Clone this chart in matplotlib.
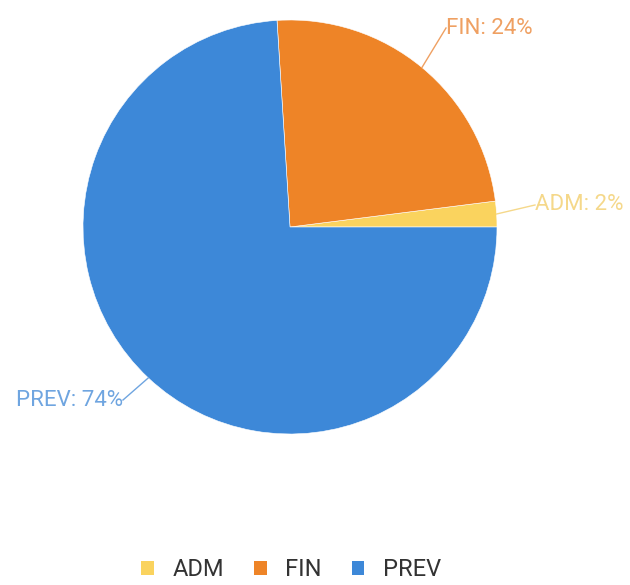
import numpy as np
import matplotlib.pyplot as plt
from matplotlib.patches import Patch

plt.rcParams['font.family'] = ['Roboto', 'DejaVu Sans']

labels = ['ADM', 'FIN', 'PREV']
values = [2, 24, 74]
colors = ['#FAD35E', '#EE8427', '#3D88D8']
label_colors = ['#F5D88A', '#EFA062', '#6FA5E0']

W, H = 630, 585
fig = plt.figure(figsize=(W / 100, H / 100), dpi=100)
ax = fig.add_axes([0, 0, 1, 1])

cx, cy, r = 290, H - 227, 207
wedges, _ = ax.pie(values, colors=colors, startangle=0, counterclock=True,
                   center=(cx, cy), radius=r, frame=True,
                   wedgeprops=dict(linewidth=0.4, edgecolor='white'))
ax.set_xlim(0, W)
ax.set_ylim(0, H)
ax.set_aspect('equal')
ax.axis('off')

# leader end points (pixel coords from top-left)
ends = [(535, 205), (446, 28), (123, 400)]
for w, lab, v, col, (ex, ey) in zip(wedges, labels, values, label_colors, ends):
    ang = np.deg2rad((w.theta1 + w.theta2) / 2)
    sx, sy = cx + r * np.cos(ang), cy + r * np.sin(ang)
    ey = H - ey
    ax.plot([sx, ex], [sy, ey], color=col, lw=1)
    ha = 'left' if ex > cx else 'right'
    ax.text(ex, ey, f'{lab}: {v}%', color=col, fontsize=16, ha=ha, va='center')

handles = [Patch(facecolor=c, edgecolor='none') for c in colors]
leg = ax.legend(handles, labels, loc='lower center', bbox_to_anchor=(0.462, -0.03),
                ncol=3, frameon=False, fontsize=17, handlelength=0.55, handleheight=0.55,
                handletextpad=0.8, columnspacing=1.25)
for t in leg.get_texts():
    t.set_color('#333333')

fig.savefig('out.png', dpi=100)
